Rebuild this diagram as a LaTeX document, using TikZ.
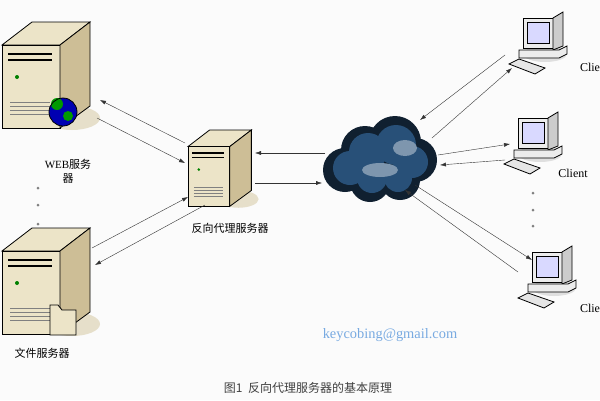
\documentclass[tikz,border=0pt]{standalone}
\usepackage{fontspec}
\setmainfont{Liberation Serif}
\newfontfamily\cjk{Noto Sans CJK SC}
\usetikzlibrary{arrows.meta}
\definecolor{tan}{RGB}{236,228,200}
\definecolor{tandark}{RGB}{205,190,150}
\definecolor{cloudblue}{RGB}{40,80,120}
\definecolor{maillink}{RGB}{120,170,225}
\tikzset{
  link/.style={-{Latex[length=6pt,width=4pt]}, thin, black!80},
  lbl/.style={font=\cjk\fontsize{11}{14}\selectfont},
  pics/server/.style={code={
    \fill[tandark!50] (70,96) ellipse (28 and 12);
    \filldraw[fill=tan, thick] (0,23) -- (30,0) -- (88,0) -- (58,23) -- cycle;
    \filldraw[fill=tan, thick] (0,23) -- (58,23) -- (58,106) -- (0,106) -- cycle;
    \filldraw[fill=tandark, thick] (58,23) -- (88,0) -- (88,84) -- (58,106) -- cycle;
    \foreach \yy in {32,38} \draw[line width=1.2pt] (6,\yy) -- (50,\yy);
    \fill[green!50!black] (15,55) circle (2);
    \foreach \yy in {80,84,88,92} \draw[gray] (8,\yy) -- (48,\yy);
  }},
  pics/client/.style={code={
    \fill[gray!25] (30,38) ellipse (22 and 8);
    \filldraw[fill=gray!15, thick] (8,2) -- (38,2) -- (38,32) -- (8,32) -- cycle;
    \filldraw[fill=white!85!blue, thick] (12,6) rectangle (34,27);
    \filldraw[fill=gray!40, thick] (38,2) -- (48,-4) -- (48,30) -- (38,34) -- cycle;
    \filldraw[fill=gray!15, thick] (4,34) -- (44,34) -- (52,30) -- (52,38) -- (44,42) -- (4,42) -- cycle;
    \filldraw[fill=gray!20, thick] (-6,48) -- (4,43) -- (30,52) -- (20,58) -- cycle;
  }}
}
\begin{document}
\begin{tikzpicture}[x=1pt,y=-1pt]
  \useasboundingbox[fill=gray!3] (0,0) rectangle (600,400);

  % servers
  \pic at (2,22) {server};
  \fill[blue!70!black] (63,112) circle (14);
  \fill[green!60!black] (57,104) circle (6) (68,116) circle (5);
  \draw[thick] (63,112) circle (14);
  \pic at (2,228) {server};
  \filldraw[fill=tan, thick] (50,305) -- (58,305) -- (62,310) -- (76,310) -- (76,335) -- (50,335) -- cycle;
  \pic[scale=0.72] at (188,130) {server};

  % cloud
  \foreach \cx/\cy/\r in {345/170/22, 365/150/24, 395/142/26, 415/160/22, 400/180/20, 370/182/20}
    \fill[cloudblue!40!black] (\cx,\cy) circle (\r);
  \foreach \cx/\cy/\r in {350/168/17, 368/152/19, 396/145/20, 412/162/16, 398/178/14, 372/178/15}
    \fill[cloudblue] (\cx,\cy) circle (\r);
  \fill[cloudblue!60!white] (380,170) ellipse (18 and 7) (405,148) ellipse (12 and 8);

  % clients
  \pic at (515,16) {client};
  \pic at (510,116) {client};
  \pic at (524,250) {client};

  % labels
  \node[lbl, align=center] (weblbl) at (68,171) {{\fontspec{Liberation Serif}WEB}服务\\器};
  \node[lbl] (filelbl) at (42,353) {文件服务器};
  \node[lbl] (proxylbl) at (230,228) {反向代理服务器};
  \node[font=\large] (c1) at (590,67) {Clie};
  \node[font=\large] (c2) at (573,173) {Client};
  \node[font=\large] (c3) at (590,308) {Clie};
  \node[font=\Large, text=maillink] (mail) at (390,335) {keycobing@gmail.com};
  \node[font=\cjk\fontsize{12}{14}\selectfont, text=black!75] (cap) at (308,388) {图1\ \ 反向代理服务器的基本原理};

  \foreach \yy in {188,205,224} \fill[gray] (38,\yy) circle (1.5);
  \foreach \yy in {193,210,226} \fill[gray] (533,\yy) circle (1.5);

  % connector ends
  \coordinate (w1) at (100,100); \coordinate (w2) at (97,118);
  \coordinate (p1) at (185,143); \coordinate (p2) at (185,163);
  \coordinate (f1) at (92,248); \coordinate (f2) at (95,265);
  \coordinate (p3) at (188,197); \coordinate (p4) at (205,205);
  \coordinate (p5) at (255,153); \coordinate (p6) at (255,183);
  \coordinate (k1) at (325,153); \coordinate (k2) at (322,183);
  \coordinate (k3) at (420,120); \coordinate (k4) at (432,138);
  \coordinate (k5) at (438,155); \coordinate (k6) at (440,165);
  \coordinate (k7) at (415,185); \coordinate (k8) at (405,190);
  \coordinate (t1) at (505,55); \coordinate (t2) at (512,68);
  \coordinate (m1) at (510,144); \coordinate (m2) at (505,160);
  \coordinate (b1) at (532,260); \coordinate (b2) at (518,272);

  \draw[link] (p1) -- (w1);
  \draw[link] (w2) -- (p2);
  \draw[link] (f1) -- (p3);
  \draw[link] (p4) -- (f2);
  \draw[link] (k1) -- (p5);
  \draw[link] (p6) -- (k2);
  \draw[link] (t1) -- (k3);
  \draw[link] (k4) -- (t2);
  \draw[link] (k5) -- (m1);
  \draw[link] (m2) -- (k6);
  \draw[link] (k7) -- (b1);
  \draw[link] (b2) -- (k8);
\end{tikzpicture}
\end{document}
